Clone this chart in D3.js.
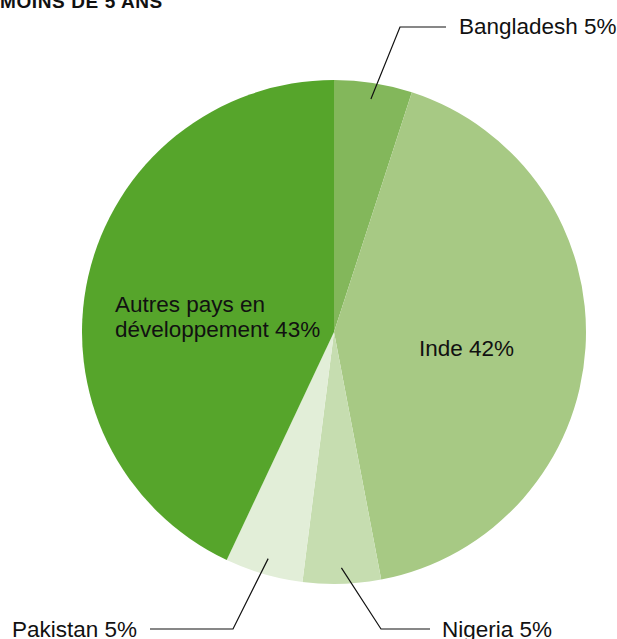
<!DOCTYPE html>
<html>
<head>
<meta charset="utf-8">
<script src="https://cdn.jsdelivr.net/npm/d3@7"></script>
<style>
  html, body { margin: 0; padding: 0; background: #fff; }
  svg { display: block; font-family: "Liberation Sans", Arial, sans-serif; }
  .title { font-weight: bold; font-size: 19px; letter-spacing: 0.6px; fill: #111; }
  .lbl { font-size: 22.5px; fill: #111; }
  .leader { fill: none; stroke: #111; stroke-width: 1.2; }
</style>
</head>
<body>
<svg id="chart" width="617" height="639"></svg>
<script>
// slices, clockwise from 12 o'clock
const countries = ['Bangladesh', 'Inde', 'Nigeria', 'Pakistan', 'Autres pays en développement'];
const shares    = [5, 42, 5, 5, 43];
const colours   = ['#83b75b', '#a7c984', '#c6ddb0', '#e2eed8', '#56a52b'];
const labels    = ['Bangladesh 5%', 'Inde 42%', 'Nigeria 5%', 'Pakistan 5%', ['Autres pays en', 'développement 43%']];

const W = 617, H = 639;
const CX = 334, CY = 332, R = 252;

const svg = d3.select('#chart');

svg.append('text').attr('class', 'title').attr('x', 0).attr('y', 8).text('MOINS DE 5 ANS');

const pie = d3.pie().sort(null).value(d => d)(shares);
const arc = d3.arc().innerRadius(0).outerRadius(R);
const tip = d3.arc().innerRadius(236).outerRadius(236);   // where the leader lines start

const g = svg.append('g').attr('transform', `translate(${CX},${CY})`);
g.selectAll('path').data(pie).join('path')
  .attr('d', arc)
  .attr('fill', (d, i) => colours[i]);

// outside labels: elbow + end of the horizontal run, text anchor (page coords)
const outside = {
  0: { elbow: [400, 27], end: [446, 27], text: [459, 34], anchor: 'start' },
  2: { elbow: [381, 629], end: [430, 629], text: [442, 637], anchor: 'start' },
  3: { elbow: [233, 629], end: [150, 629], text: [12, 637], anchor: 'start' }
};
// inside labels
const inside = {
  1: { text: [419, 356], anchor: 'start' },
  4: { text: [115, 312], anchor: 'start' }
};

Object.keys(outside).forEach(k => {
  const o = outside[k];
  const c = tip.centroid(pie[k]);
  svg.append('polyline').attr('class', 'leader')
    .attr('points', [[CX + c[0], CY + c[1]], o.elbow, o.end].map(p => p.join(',')).join(' '));
  svg.append('text').attr('class', 'lbl')
    .attr('x', o.text[0]).attr('y', o.text[1]).attr('text-anchor', o.anchor)
    .text(labels[k]);
});

Object.keys(inside).forEach(k => {
  const o = inside[k];
  const lines = [].concat(labels[k]);
  const t = svg.append('text').attr('class', 'lbl')
    .attr('x', o.text[0]).attr('y', o.text[1]).attr('text-anchor', o.anchor);
  lines.forEach((s, i) => t.append('tspan').attr('x', o.text[0]).attr('dy', i ? 25 : 0).text(s));
});
</script>
</body>
</html>
